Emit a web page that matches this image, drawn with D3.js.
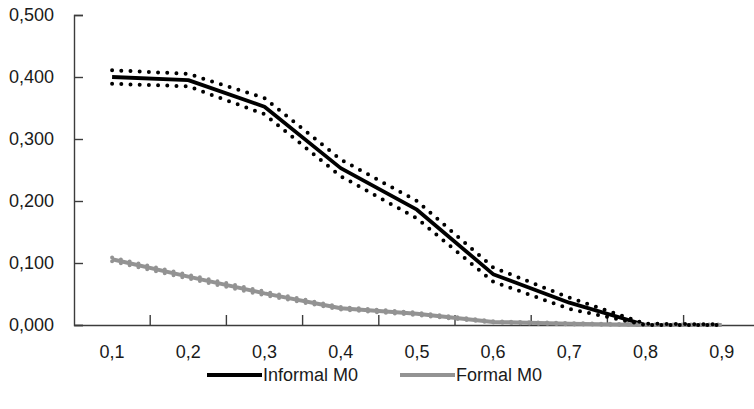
<!DOCTYPE html>
<html lang="en">
    <head>
        <meta charset="utf-8">
        <title>Informal vs Formal M0</title>
        <script type="text/javascript" src="https://cdn.jsdelivr.net/npm/d3@7/dist/d3.min.js"></script>
        <style type="text/css">
            body { margin: 0; background: #fff; }
            .axis text {
                font-family: "Liberation Sans", Arial, sans-serif;
                font-size: 18px;
                fill: #1a1a1a;
            }
        </style>
    </head>
    <body>
        <script type="text/javascript">
            const categories = ["0,1", "0,2", "0,3", "0,4", "0,5", "0,6", "0,7", "0,8", "0,9"]
            const informal      = [0.400, 0.395, 0.352, 0.253, 0.186, 0.082, 0.036, 0.000, 0.000]
            const informalUpper = [0.411, 0.405, 0.366, 0.267, 0.200, 0.093, 0.044, 0.002, 0.001]
            const informalLower = [0.389, 0.385, 0.340, 0.240, 0.172, 0.070, 0.026, 0.000, 0.000]
            const formal        = [0.106, 0.078, 0.051, 0.027, 0.018, 0.005, 0.002, 0.000, 0.000]
            const formalUpper   = [0.109, 0.081, 0.054, 0.029, 0.020, 0.006, 0.003, 0.001, 0.001]
            const formalLower   = [0.103, 0.075, 0.048, 0.025, 0.016, 0.004, 0.001, 0.000, 0.000]
            const yTicks = [0, 0.1, 0.2, 0.3, 0.4, 0.5]

            const w = 754
            const h = 409
            const padLeft = 74
            const padTop = 15
            const axisY = 325

            const svg = d3.select("body")
                            .append("svg")
                            .attr("width", w)
                            .attr("height", h)

            const xScale = d3.scaleBand()
                            .domain(categories)
                            .range([padLeft, padLeft + 9 * 76.2])

            const yScale = d3.scaleLinear()
                            .domain([0, 0.5])
                            .range([axisY, padTop])

            const fmt = d => d3.format(".3f")(d).replace(".", ",")

            // y axis, ticks pointing inward
            const yAxis = d3.axisLeft(yScale)
                            .tickValues(yTicks)
                            .tickSize(-9)
                            .tickPadding(20)
                            .tickFormat(fmt)
            const gy = svg.append("g")
                .attr("class", "axis")
                .attr("transform", `translate(${padLeft}, 0)`)
                .call(yAxis)
            gy.select(".domain").attr("stroke", "#3c3c3c").attr("stroke-width", 1.4)
            gy.selectAll(".tick line").attr("stroke", "#3c3c3c").attr("stroke-width", 1.4)

            // x axis: labels at band centres, ticks at band edges
            const xAxis = d3.axisBottom(xScale)
                            .tickSize(0)
                            .tickPadding(20)
            const gx = svg.append("g")
                .attr("class", "axis")
                .attr("transform", `translate(0, ${axisY})`)
                .call(xAxis)
            gx.select(".domain").attr("stroke", "#3c3c3c").attr("stroke-width", 1.4)

            gx.selectAll("line.edge")
                .data(categories.slice(1))
                .enter()
                .append("line")
                .attr("class", "edge")
                .attr("x1", d => xScale(d))
                .attr("x2", d => xScale(d))
                .attr("y1", 0)
                .attr("y2", -10)
                .attr("stroke", "#3c3c3c")
                .attr("stroke-width", 1.4)

            const cx = i => xScale(categories[i]) + xScale.bandwidth() / 2
            const line = d3.line()
                            .x((d, i) => cx(i))
                            .y(d => yScale(d))

            const plot = svg.append("g")

            // black main line
            plot.append("path")
                .attr("d", line(informal.slice(0, 8)))
                .attr("fill", "none")
                .attr("stroke", "#000")
                .attr("stroke-width", 3.8)
                .attr("stroke-linejoin", "round")

            // grey main line with its near-overlapping CI dots
            plot.append("path")
                .attr("d", line(formal))
                .attr("fill", "none")
                .attr("stroke", "#939393")
                .attr("stroke-width", 4)
                .attr("stroke-linejoin", "round")

            ;[formalUpper, formalLower].forEach(arr => {
                plot.append("path")
                    .attr("d", line(arr))
                    .attr("fill", "none")
                    .attr("stroke", "#939393")
                    .attr("stroke-width", 4)
                    .attr("stroke-linecap", "round")
                    .attr("stroke-dasharray", "0 9")
            })

            ;[informalUpper, informalLower].forEach(arr => {
                plot.append("path")
                    .attr("d", line(arr))
                    .attr("fill", "none")
                    .attr("stroke", "#000")
                    .attr("stroke-width", 4)
                    .attr("stroke-linecap", "round")
                    .attr("stroke-dasharray", "0 9.2")
            })

            // legend
            const legend = [
                { name: "Informal M0", color: "#000", x: 207 },
                { name: "Formal M0", color: "#939393", x: 400 }
            ]
            const lg = svg.append("g")
            lg.selectAll("line")
                .data(legend)
                .enter()
                .append("line")
                .attr("x1", d => d.x)
                .attr("x2", d => d.x + 55)
                .attr("y1", 375)
                .attr("y2", 375)
                .attr("stroke", d => d.color)
                .attr("stroke-width", 4)
            lg.selectAll("text")
                .data(legend)
                .enter()
                .append("text")
                .attr("x", d => d.x + 56)
                .attr("y", 381)
                .attr("font-family", "Liberation Sans, Arial, sans-serif")
                .attr("font-size", 18)
                .attr("fill", "#1a1a1a")
                .text(d => d.name)
        </script>
    </body>
</html>
